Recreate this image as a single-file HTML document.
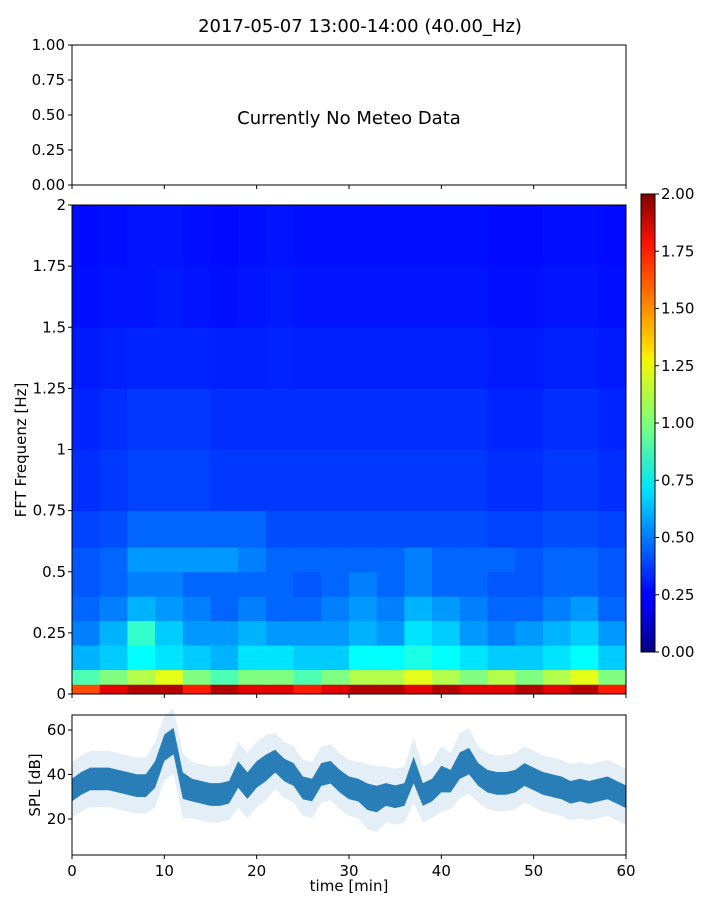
<!DOCTYPE html>
<html><head><meta charset="utf-8"><style>
html,body{margin:0;padding:0;background:#fff;}
svg{display:block;font-family:"DejaVu Sans","Liberation Sans",sans-serif;}
</style></head><body>
<svg id="fig" width="720" height="900" viewBox="0 0 720 900" xmlns="http://www.w3.org/2000/svg">
<defs>
<linearGradient id="jet" x1="0" y1="1" x2="0" y2="0">
<stop offset="0" stop-color="#00007f"/><stop offset="0.11" stop-color="#0000ff"/><stop offset="0.125" stop-color="#0000ff"/>
<stop offset="0.34" stop-color="#00d4ff"/><stop offset="0.36" stop-color="#00e5f7"/><stop offset="0.5" stop-color="#7dff7a"/>
<stop offset="0.64" stop-color="#f7f500"/><stop offset="0.66" stop-color="#ffde00"/><stop offset="0.89" stop-color="#ff1300"/>
<stop offset="1" stop-color="#7f0000"/></linearGradient>
</defs>
<text x="360" y="32" font-size="18" text-anchor="middle">2017-05-07 13:00-14:00 (40.00_Hz)</text>
<g id="topAx"></g>
<g id="specAx"></g>
<g id="cbarAx"></g>
<g id="splAx"></g>
</svg>
<script>
const timeBins = [0,3,6,9,12,15,18,21,24,27,30,33,36,39,42,45,48,51,54,57,60];
const freqEdges = [0,0.04,0.1,0.2,0.3,0.4,0.5,0.6,0.75,1.0,1.25,1.5,1.75,2.0];
const specValues = [
[1.6,1.8,1.9,1.9,1.7,1.9,1.8,1.8,1.7,1.8,1.9,1.9,1.8,1.9,1.8,1.8,1.9,1.8,1.9,1.7],
[0.9,1.0,1.1,1.2,1.0,0.9,1.0,1.0,0.9,1.0,1.1,1.1,1.2,1.1,1.0,1.1,1.0,1.1,1.2,1.0],
[0.6,0.65,0.75,0.7,0.65,0.6,0.7,0.7,0.65,0.65,0.75,0.75,0.8,0.75,0.7,0.65,0.65,0.7,0.75,0.65],
[0.5,0.6,0.85,0.65,0.55,0.55,0.6,0.55,0.55,0.55,0.6,0.55,0.7,0.65,0.55,0.5,0.55,0.6,0.65,0.55],
[0.45,0.5,0.6,0.55,0.5,0.45,0.5,0.45,0.45,0.5,0.55,0.5,0.6,0.55,0.5,0.45,0.45,0.5,0.55,0.45],
[0.42,0.45,0.5,0.5,0.45,0.45,0.45,0.45,0.42,0.45,0.5,0.45,0.5,0.45,0.45,0.42,0.42,0.45,0.45,0.42],
[0.42,0.45,0.55,0.55,0.55,0.55,0.5,0.45,0.45,0.45,0.45,0.45,0.5,0.45,0.45,0.45,0.42,0.45,0.45,0.42],
[0.38,0.4,0.45,0.45,0.45,0.45,0.45,0.4,0.4,0.4,0.4,0.4,0.4,0.4,0.4,0.38,0.38,0.4,0.4,0.38],
[0.34,0.36,0.38,0.38,0.38,0.36,0.36,0.36,0.36,0.36,0.36,0.36,0.36,0.36,0.36,0.34,0.34,0.36,0.36,0.34],
[0.32,0.34,0.36,0.36,0.36,0.34,0.34,0.34,0.34,0.34,0.34,0.34,0.34,0.34,0.34,0.32,0.32,0.34,0.34,0.32],
[0.3,0.31,0.32,0.32,0.32,0.31,0.31,0.32,0.31,0.31,0.31,0.31,0.31,0.31,0.31,0.3,0.3,0.31,0.31,0.3],
[0.28,0.29,0.29,0.3,0.29,0.28,0.29,0.3,0.29,0.29,0.29,0.29,0.29,0.29,0.29,0.28,0.28,0.29,0.29,0.28],
[0.27,0.28,0.29,0.29,0.28,0.27,0.28,0.29,0.28,0.28,0.28,0.28,0.28,0.28,0.28,0.27,0.27,0.28,0.28,0.27]];
const splMinutes = [0,1,2,3,4,5,6,7,8,9,10,11,12,13,14,15,16,17,18,19,20,21,22,23,24,25,26,27,28,29,30,31,32,33,34,35,36,37,38,39,40,41,42,43,44,45,46,47,48,49,50,51,52,53,54,55,56,57,58,59,60];
const splMean = [33,36,38,38,38,37,36,35,35,40,52,55,35,33,32,31,31,32,40,35,40,43,46,42,40,34,33,40,41,37,34,33,30,29,31,30,31,42,31,33,38,37,44,46,40,37,36,36,37,40,38,36,35,34,32,33,32,33,34,32,30];
const splSpread = [6,6,6,6,6,6,6,6,6,7,7,7,7,6,6,6,6,6,7,7,7,7,6,6,6,6,6,6,6,6,6,6,7,7,6,6,6,7,6,6,7,6,7,7,6,6,6,6,6,6,6,6,6,6,6,6,6,6,6,6,6];
const yTicksMeteo = ["0.00","0.25","0.50","0.75","1.00"];
const yTicksFreq = [0,0.25,0.5,0.75,1,1.25,1.5,1.75,2];
const yTickFreqLabels = ["0","0.25","0.5","0.75","1","1.25","1.5","1.75","2"];
const cbarTicks = ["0.00","0.25","0.50","0.75","1.00","1.25","1.50","1.75","2.00"];
const xTicks = [0,10,20,30,40,50,60];
const splTicks = [20,40,60];

const NS="http://www.w3.org/2000/svg";
function mk(p,tag,attrs,txt){const e=document.createElementNS(NS,tag);for(const k in attrs)e.setAttribute(k,attrs[k]);if(txt!==undefined)e.textContent=txt;p.appendChild(e);return e;}
const X0=72,X1=626;
const xs=t=>X0+(t/60)*(X1-X0);
function jet(v){v=Math.max(0,Math.min(1,v/2));
 const r=Math.max(0,Math.min(1,1.5-Math.abs(4*v-3))),g=Math.max(0,Math.min(1,1.5-Math.abs(4*v-2))),b=Math.max(0,Math.min(1,1.5-Math.abs(4*v-1)));
 return `rgb(${Math.round(r*255)},${Math.round(g*255)},${Math.round(b*255)})`;}

const topG=document.getElementById('topAx');
const TY0=45,TY1=185;
mk(topG,'rect',{x:X0,y:TY0,width:X1-X0,height:TY1-TY0,fill:'none',stroke:'#000','stroke-width':1});
yTicksMeteo.forEach((l,i)=>{const y=TY1-i*(TY1-TY0)/4;
 mk(topG,'line',{x1:X0-4,x2:X0,y1:y,y2:y,stroke:'#000'});
 const t=mk(topG,'text',{x:X0-7,y:y+5,'font-size':15,'text-anchor':'end'},l);
 
 });
xTicks.forEach(v=>mk(topG,'line',{x1:xs(v),x2:xs(v),y1:TY1,y2:TY1+4,stroke:'#000'}));
const nm=mk(topG,'text',{x:349,y:124,'font-size':18,'text-anchor':'middle'},'Currently No Meteo Data');



const specG=document.getElementById('specAx');
const SY0=205,SY1=694;
const fy=f=>SY1-(f/2)*(SY1-SY0);
specValues.forEach((row,ri)=>{row.forEach((v,ci)=>{
 const c=mk(specG,'rect',{x:xs(timeBins[ci]),y:fy(freqEdges[ri+1]),width:xs(timeBins[ci+1])-xs(timeBins[ci])+0.5,height:fy(freqEdges[ri])-fy(freqEdges[ri+1])+0.5,fill:jet(v)});
 
 });});
mk(specG,'rect',{x:X0,y:SY0,width:X1-X0,height:SY1-SY0,fill:'none',stroke:'#000'});
yTicksFreq.forEach((f,i)=>{const y=fy(f);
 mk(specG,'line',{x1:X0-4,x2:X0,y1:y,y2:y,stroke:'#000'});
 const t=mk(specG,'text',{x:X0-6,y:y+5,'font-size':15,'text-anchor':'end'},yTickFreqLabels[i]);
 
 });
xTicks.forEach(v=>mk(specG,'line',{x1:xs(v),x2:xs(v),y1:SY1,y2:SY1+4,stroke:'#000'}));
const fl=mk(specG,'text',{x:26,y:450,'font-size':15,'text-anchor':'middle',transform:'rotate(-90 26 450)'},'FFT Frequenz [Hz]');



const cbG=document.getElementById('cbarAx');
const CY0=194,CY1=652;
mk(cbG,'rect',{x:641,y:CY0,width:14,height:CY1-CY0,fill:'url(#jet)',stroke:'#000'});
cbarTicks.forEach((l,i)=>{const y=CY1-i*(CY1-CY0)/8;
 mk(cbG,'line',{x1:655,x2:659,y1:y,y2:y,stroke:'#000'});
 const t=mk(cbG,'text',{x:661,y:y+5,'font-size':15},l);
 
 });

const splG=document.getElementById('splAx');
const PY0=715,PY1=855;
const ys=d=>730-(d-60)*2.225;
function band(k,op){
 const up=splMinutes.map((m,i)=>`${xs(m)},${ys(splMean[i]+splSpread[i]*k)}`);
 const dn=splMinutes.map((m,i)=>`${xs(m)},${ys(splMean[i]-splSpread[i]*k)}`).reverse();
 return mk(splG,'polygon',{points:up.concat(dn).join(' '),fill:'#1f77b4','fill-opacity':op});}
const b1=band(2.1,0.12);


const b2=band(0.85,0.95);


mk(splG,'rect',{x:X0,y:PY0,width:X1-X0,height:PY1-PY0,fill:'none',stroke:'#000'});
splTicks.forEach(v=>{const y=ys(v);
 mk(splG,'line',{x1:X0-4,x2:X0,y1:y,y2:y,stroke:'#000'});
 const t=mk(splG,'text',{x:X0-6,y:y+5,'font-size':15,'text-anchor':'end'},String(v));
 
 });
xTicks.forEach(v=>{mk(splG,'line',{x1:xs(v),x2:xs(v),y1:PY1,y2:PY1+4,stroke:'#000'});
 const t=mk(splG,'text',{x:xs(v),y:PY1+21,'font-size':15,'text-anchor':'middle'},String(v));
 
 });
const xl=mk(splG,'text',{x:349,y:891,'font-size':15,'text-anchor':'middle'},'time [min]');


const sl=mk(splG,'text',{x:40,y:785,'font-size':15,'text-anchor':'middle',transform:'rotate(-90 40 785)'},'SPL [dB]');


</script>
</body></html>
